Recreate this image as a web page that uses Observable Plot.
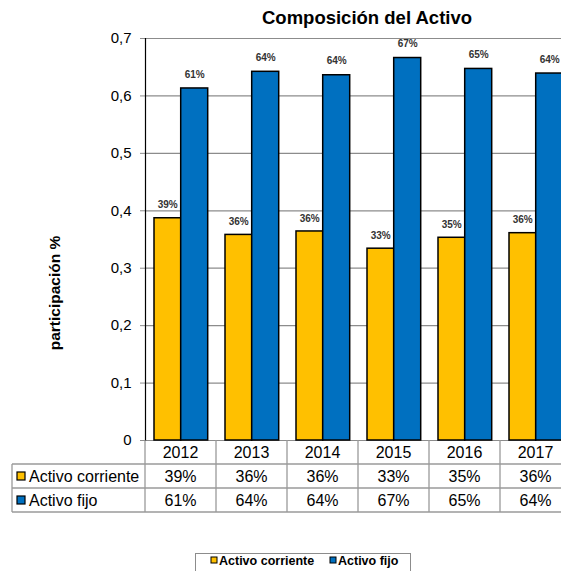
<!DOCTYPE html>
<html>
<head>
<meta charset="utf-8">
<script src="https://cdn.jsdelivr.net/npm/d3@7"></script>
<script src="https://cdn.jsdelivr.net/npm/@observablehq/plot@0.6"></script>
<style>
  body { margin: 0; background: #fff; }
  #wrap { position: relative; width: 561px; height: 571px; overflow: hidden; background: #fff;
          font-family: "Liberation Sans", Arial, sans-serif; color: #000; }
  #title { position: absolute; left: 367px; top: 18px; transform: translate(-50%, -50%);
           font-weight: bold; font-size: 18.5px; white-space: nowrap; }
  #ylabel { position: absolute; left: 55px; top: 293px; transform: translate(-50%, -50%) rotate(-90deg);
            font-weight: bold; font-size: 15.5px; white-space: nowrap; }
  #chart { position: absolute; left: 0; top: 0; width: 571px; }
  #chart svg { max-width: none !important; }
  #table { position: absolute; left: 0; top: 0; pointer-events: none; }
</style>
</head>
<body>
<div id="wrap">
  <div id="chart"></div>
  <svg id="table" width="571" height="571"></svg>
  <div id="title">Composición del Activo</div>
  <div id="ylabel">participación %</div>
</div>
<script>
// ---- data ----
const years = ["2012", "2013", "2014", "2015", "2016", "2017"];
const corriente = [0.387, 0.358, 0.364, 0.334, 0.353, 0.361];
const fijo = [0.613, 0.642, 0.636, 0.666, 0.647, 0.639];
const seriesNames = ["Activo corriente", "Activo fijo"];
const seriesColors = ["#FFC000", "#0070C0"];
const yTicks = [0, 0.1, 0.2, 0.3, 0.4, 0.5, 0.6, 0.7];

const pct = d3.format(".0%");
const yFmt = d => d === 0 ? "0" : d3.format(".1f")(d).replace(".", ",");

const corrData = years.map((year, i) => ({year, value: corriente[i]}));
const fijoData = years.map((year, i) => ({year, value: fijo[i]}));

const FONT = '"Liberation Sans", Arial, sans-serif';

const plot = Plot.plot({
  width: 571,
  height: 445,
  marginLeft: 145,
  marginRight: 0,
  marginTop: 38,
  marginBottom: 5,
  x: {domain: years, padding: 0, axis: null},
  y: {domain: [0, 0.7], axis: null},
  style: {fontFamily: FONT, background: "transparent", overflow: "visible", color: "#000", maxWidth: "none"},
  marks: [
    Plot.gridY(yTicks, {stroke: "#8c8c8c", strokeOpacity: 1, strokeWidth: 1.2}),
    Plot.axisY(yTicks, {anchor: "left", tickSize: 5, tickPadding: 9, tickFormat: yFmt,
                        label: null, fontSize: 15, stroke: "#8c8c8c", fill: "#000"}),
    Plot.barY(corrData, {x: "year", y: "value", fill: seriesColors[0], stroke: "#000",
                         strokeWidth: 1.5, insetLeft: 9, insetRight: 35.3}),
    Plot.barY(fijoData, {x: "year", y: "value", fill: seriesColors[1], stroke: "#000",
                         strokeWidth: 1.5, insetLeft: 35.7, insetRight: 8.3}),
    Plot.text(corrData, {x: "year", y: "value", text: d => pct(d.value), dx: -13.3, dy: -13,
                         fontSize: 10, fontWeight: "bold", fill: "#333"}),
    Plot.text(fijoData, {x: "year", y: "value", text: d => pct(d.value), dx: 13.7, dy: -14,
                         fontSize: 10, fontWeight: "bold", fill: "#333"}),
    Plot.frame({anchor: "left", stroke: "#000", strokeWidth: 1.2})
  ]
});
plot.style.maxWidth = "none";
plot.style.width = "571px";
plot.style.height = "445px";
document.getElementById("chart").appendChild(plot);

// ---- data table and legend, positioned with the plot's x scale ----
const xs = plot.scale("x");
const bw = xs.bandwidth;
const svg = d3.select("#table");
const grid = "#9a9a9a";
const rowY = [441, 464, 488, 512];
const left = 12;
const colStarts = years.map(y => xs.apply(y));
const right = colStarts[colStarts.length - 1] + bw;

// horizontal lines
[464, 488, 512].forEach(y => svg.append("line").attr("x1", left).attr("x2", right)
  .attr("y1", y).attr("y2", y).attr("stroke", grid).attr("stroke-width", 1.3));
// vertical lines
svg.append("line").attr("x1", left).attr("x2", left).attr("y1", 464).attr("y2", 512)
  .attr("stroke", grid).attr("stroke-width", 1.3);
colStarts.concat([right]).forEach(x => svg.append("line").attr("x1", x).attr("x2", x)
  .attr("y1", 440).attr("y2", 512).attr("stroke", grid).attr("stroke-width", 1.3));

const rowText = [years, corriente.map(pct), fijo.map(pct)];
rowText.forEach((vals, r) => {
  const cy = (rowY[r] + rowY[r + 1]) / 2;
  vals.forEach((v, i) => {
    svg.append("text").attr("x", colStarts[i] + bw / 2).attr("y", cy).attr("dy", "0.36em")
      .attr("text-anchor", "middle").attr("font-family", FONT).attr("font-size", 16).text(v);
  });
});
seriesNames.forEach((name, s) => {
  const cy = (rowY[s + 1] + rowY[s + 2]) / 2;
  svg.append("rect").attr("x", 17).attr("y", cy - 4).attr("width", 8).attr("height", 8)
    .attr("fill", seriesColors[s]).attr("stroke", "#000").attr("stroke-width", 1.2);
  svg.append("text").attr("x", 29).attr("y", cy).attr("dy", "0.36em")
    .attr("font-family", FONT).attr("font-size", 16).text(name);
});

// legend box
svg.append("rect").attr("x", 195.5).attr("y", 553.5).attr("width", 215).attr("height", 30)
  .attr("fill", "#fff").attr("stroke", "#8c8c8c").attr("stroke-width", 1);
const legX = [211, 330];
seriesNames.forEach((name, s) => {
  svg.append("rect").attr("x", legX[s]).attr("y", 557).attr("width", 6).attr("height", 6)
    .attr("fill", seriesColors[s]).attr("stroke", "#000").attr("stroke-width", 1);
  svg.append("text").attr("x", legX[s] + 8).attr("y", 560).attr("dy", "0.36em")
    .attr("font-family", FONT).attr("font-weight", "bold").attr("font-size", 12.5).text(name);
});
</script>
</body>
</html>
